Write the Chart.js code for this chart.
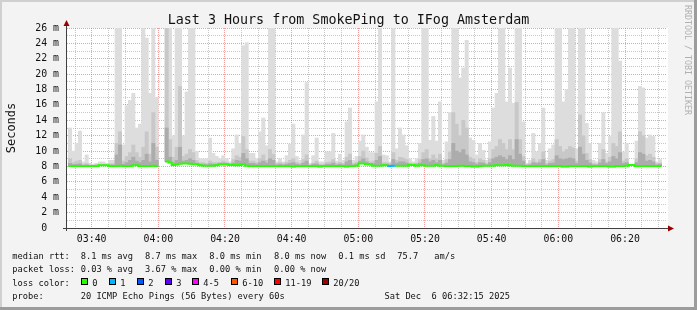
<!DOCTYPE html>
<html>
<head>
<meta charset="utf-8">
<title>SmokePing - IFog Amsterdam</title>
<script src="https://cdn.jsdelivr.net/npm/chart.js@4.4.1/dist/chart.umd.min.js"></script>
<style>
  html, body { margin: 0; padding: 0; background: #f3f3f3; }
  canvas { display: block; }
</style>
</head>
<body>
<canvas id="smokeChart" width="697" height="310"></canvas>
<script>
// Time window (one slot per minute, first slot starts at slotStart)
const viewStart = '03:32:36';
const viewMinutes = 180;
const slotStart = '03:33';
const xTickLabels = ['03:40', '04:00', '04:20', '04:40', '05:00', '05:20', '05:40', '06:00', '06:20'];
const yTickLabels = ['0', '2 m', '4 m', '6 m', '8 m', '10 m', '12 m', '14 m', '16 m', '18 m', '20 m', '22 m', '24 m', '26 m'];

// Smoke: highest ping per minute (ms), values above 26 are cut by the plot
const smokeMax = [
  13, 10, 11, 12.6, 8.6, 9.5, 8.4, 8.3, 8.4, 8.6,
  8.6, 8.4, 8.8, 8.8, 27, 27, 10.8, 15.9, 16.6, 17.5,
  13, 13.5, 27, 24.7, 17.5, 27, 17, null, null, 27,
  27, 12, 27, 27, 12, 17.7, 27, 27, 10, 9,
  9, 9, 11.7, 9.7, 9.3, 9, 9.4, 9, 8.6, 10.3,
  12.1, 11, 23.7, 24.1, 9.7, 9.7, 9, 12.5, 14.3, 10.7,
  27, 27, 8.6, 9, 8.6, 9.4, 10.9, 13.5, 9.3, 8.8,
  12.1, 18.9, 8.4, 9.4, 11.7, 8.6, 8.6, 9.9, 9.9, 12.3,
  8.7, 9.6, 8.8, 13.8, 15.6, 8.8, 9.3, 11.3, 12.1, 10.5,
  9.8, 9.8, 16.4, 27, 9.5, 9.4, 8.6, 27, 10.3, 13,
  12.1, 10.7, 9, 8.6, 9, 11, 27, 27, 11.4, 14.5,
  11.3, 16.4, 8.8, 11.2, 15, 27, 27, 19.5, 20.8, 24.4,
  11.7, 11.4, 9.5, 11, 10.1, 8.8, 11.2, 15.6, 17.5, 27,
  27, 16.4, 20.8, 16.2, 27, 27, 13.8, 8.4, 8.8, 12.3,
  9.9, 11, 15.6, 8.8, 10.3, 10.8, 27, 27, 16.4, 18,
  27, 27, 10.3, 27, 27, 13.6, 11, 8.8, 8.6, 11,
  15, 9.7, 11.9, 27, 27, 21.7, 9.9, 11, 8.2, 8.2,
  11.3, 18.4, 18.2, 11.7, 12.1, 11.9, 8.6, 8.9
];

// Smoke: upper edge of the medium grey band
const smokeMid = [
  9.0, 8.5, 8.7, 8.8, 8.3, 8.4, 8.2, 8.2, 8.25, 8.3,
  8.3, 8.25, 8.35, 8.35, 11, 12.5, 8.7, 9.3, 9.8, 10.8,
  9.8, 9.2, 10.5, 12.5, 9.6, 15, 10.5, null, null, 27,
  11.5, 9.2, 10.5, 18.4, 9.3, 9.6, 10.2, 9.8, 8.8, 8.5,
  8.5, 8.4, 8.7, 8.5, 8.5, 8.55, 8.7, 8.55, 8.4, 8.9,
  9.4, 9.2, 11.9, 10.2, 8.7, 8.7, 8.5, 9.0, 9.5, 8.8,
  10.2, 9.6, 8.4, 8.5, 8.4, 8.55, 8.8, 9.0, 8.55, 8.4,
  8.9, 9.5, 8.2, 8.45, 8.7, 8.3, 8.3, 8.55, 8.6, 8.9,
  8.4, 8.55, 8.4, 9.2, 9.6, 8.4, 8.55, 9.3, 10, 9.1,
  8.6, 8.7, 9.7, 10.6, 8.5, 8.5, 8.4, 9.8, 8.8, 9.2,
  9.1, 8.9, 8.45, 8.4, 8.45, 8.9, 9.8, 10.2, 9, 9.5,
  9, 9.6, 8.4, 8.9, 9.9, 15, 13.5, 12, 14, 13,
  9.2, 9, 8.5, 9, 8.8, 8.4, 9, 10.2, 10.6, 11.5,
  11, 10.2, 11.5, 10.2, 16.3, 11.5, 9.3, 8.3, 8.4, 9,
  8.6, 8.9, 9.9, 8.4, 8.7, 8.9, 11.5, 10.6, 9.9, 10.2,
  10.6, 10.4, 8.7, 14.7, 12, 9.7, 8.9, 8.4, 8.3, 8.9,
  10.2, 8.6, 9.2, 11, 10.6, 12.5, 8.7, 9, 8.25, 8.25,
  9, 12.5, 12, 9.4, 9.6, 9.2, 8.4, 8.45
];

// Smoke: upper edge of the dark grey band
const smokeDark = [
  8.4, 8.25, 8.3, 8.35, 8.15, 8.2, 8.1, 8.1, 8.15, 8.2,
  8.2, 8.15, 8.2, 8.2, 9.5, 10.8, 8.3, 8.5, 8.8, 9.2,
  8.7, 8.5, 8.8, 9.6, 8.6, 11, 8.8, null, null, 13,
  9.2, 8.5, 8.8, 10.5, 8.7, 8.8, 9, 8.8, 8.45, 8.3,
  8.3, 8.2, 8.35, 8.3, 8.3, 8.4, 8.45, 8.4, 8.3, 8.45,
  8.8, 8.7, 9.7, 9, 8.4, 8.4, 8.3, 8.5, 8.7, 8.45,
  9, 8.8, 8.2, 8.3, 8.2, 8.3, 8.4, 8.5, 8.3, 8.2,
  8.45, 8.7, 8.1, 8.3, 8.35, 8.15, 8.15, 8.3, 8.3, 8.45,
  8.2, 8.3, 8.2, 8.6, 8.8, 8.2, 8.3, 8.7, 9, 8.6,
  8.4, 8.4, 8.8, 9.3, 8.3, 8.3, 8.2, 8.9, 8.45, 8.6,
  8.6, 8.45, 8.3, 8.2, 8.3, 8.45, 8.9, 9, 8.6, 8.8,
  8.5, 8.8, 8.2, 8.45, 8.9, 11, 10, 9.8, 10.2, 9.5,
  8.6, 8.5, 8.3, 8.5, 8.45, 8.2, 8.5, 9, 9.2, 9.4,
  9.2, 8.9, 9.4, 8.9, 11.5, 9.6, 8.7, 8.15, 8.2, 8.5,
  8.4, 8.5, 8.9, 8.2, 8.4, 8.45, 9.4, 9, 8.9, 9,
  9.1, 9, 8.4, 10.5, 9.6, 8.8, 8.45, 8.2, 8.2, 8.45,
  8.9, 8.4, 8.6, 9.3, 9, 9.8, 8.4, 8.5, 8.22, 8.22,
  8.5, 9.8, 9.6, 8.7, 8.8, 8.6, 8.2, 8.3
];

// Median rtt per minute (ms)
const medianRtt = [
  8.05, 8.05, 8.05, 8.05, 8.05, 8.05, 8.05, 8.05, 8.05, 8.15,
  8.15, 8.15, 8.05, 8.05, 8.05, 8.1, 8.05, 8.05, 8.05, 8.15,
  8.15, 8.05, 8.05, 8.05, 8.05, 8.1, 8.05, null, null, 8.65,
  8.5, 8.2, 8.25, 8.35, 8.4, 8.4, 8.35, 8.3, 8.3, 8.15,
  8.1, 8.1, 8.1, 8.1, 8.15, 8.25, 8.25, 8.25, 8.2, 8.2,
  8.15, 8.2, 8.3, 8.1, 8.05, 8.05, 8.05, 8.05, 8.05, 8.05,
  8.05, 8.05, 8.05, 8.05, 8.05, 8.05, 8.05, 8.0, 8.05, 8.05,
  8.05, 8.05, 8.05, 8.05, 8.05, 8.0, 8.05, 8.05, 8.05, 8.05,
  8.05, 8.05, 8.05, 8.0, 8.05, 8.05, 8.1, 8.4, 8.4, 8.3,
  8.25, 8.1, 8.1, 8.1, 8.15, 8.15, 8.05, 8.1, 8.1, 8.1,
  8.1, 8.1, 8.2, 8.2, 8.1, 8.15, 8.15, 8.1, 8.1, 8.1,
  8.15, 8.1, 8.1, 8.05, 8.05, 8.05, 8.05, 8.1, 8.1, 8.05,
  8.05, 8.0, 8.0, 8.05, 8.1, 8.1, 8.1, 8.1, 8.15, 8.15,
  8.15, 8.2, 8.15, 8.1, 8.1, 8.1, 8.05, 8.05, 8.05, 8.05,
  8.05, 8.05, 8.05, 8.05, 8.05, 8.05, 8.05, 8.05, 8.0, 8.0,
  8.05, 8.05, 8.05, 8.05, 8.05, 8.05, 8.0, 8.05, 8.05, 8.05,
  8.05, 8.05, 8.0, 8.0, 8.05, 8.05, 8.05, 8.1, 8.2, 8.2,
  8.05, 8.05, 8.05, 8.05, 8.05, 8.05, 8.05, 8.05
];

// Lost pings (out of 20) for the few minutes that had any
const lossSlots = [96, 97];
const lossPings = [1, 1];

const lossLabels = ['0', '1', '2', '3', '4-5', '6-10', '11-19', '20/20'];
const lossColors = ['#26ff00', '#00b8ff', '#0059ff', '#5e00ff', '#ff00ff', '#ff5500', '#ff0000', '#a10000'];

const rttStats = ['8.1 ms avg', '8.7 ms max', '8.0 ms min', '8.0 ms now', '0.1 ms sd', '75.7', 'am/s'];
const lossStats = ['0.03 % avg', '3.67 % max', '0.00 % min', '0.00 % now'];

const titleText = 'Last 3 Hours from SmokePing to IFog Amsterdam';
const probeText = '20 ICMP Echo Pings (56 Bytes) every 60s';
const stampText = 'Sat Dec  6 06:32:15 2025';

const MONO = '"DejaVu Sans Mono", "Liberation Mono", monospace';
const TEXT = '#111';
const GRID_MAJOR = 'rgba(235, 80, 80, 0.55)';
const GRID_MINOR = 'rgba(130, 130, 130, 0.45)';

function toMin(s) {
    const p = s.split(':').map(Number);
    return p[0] * 60 + p[1] + (p[2] || 0) / 60;
}

function lossBucket(n) {
    if (n <= 3) return n;
    if (n <= 5) return 4;
    if (n <= 10) return 5;
    if (n <= 19) return 6;
    return 7;
}

const xMin = toMin(viewStart);
const firstSlot = toMin(slotStart);
const majorX = new Map(xTickLabels.map(l => [toMin(l), l]));

const slotLoss = medianRtt.map(() => 0);
lossSlots.forEach((k, i) => { slotLoss[k] = lossPings[i]; });

// Floating bars from the median up to each smoke level
function band(top) {
    return top.map((v, k) => ({
        x: firstSlot + k + 0.5,
        y: (v === null || medianRtt[k] === null) ? null : [medianRtt[k], v]
    }));
}

// Median as flat steps across each minute
const medLine = [];
const medSlot = [];
medianRtt.forEach((v, k) => {
    const x0 = firstSlot + k;
    if (v === null) {
        medLine.push({ x: x0 + 0.5, y: null }); medSlot.push(k);
        return;
    }
    medLine.push({ x: x0, y: v }); medSlot.push(k);
    medLine.push({ x: x0 + 1, y: v }); medSlot.push(k);
});

function tickValue(c) {
    return c && c.tick ? c.tick.value : null;
}

// Frame, axes with arrows, title and the rrdtool legend block
const rrdDecor = {
    id: 'rrdDecor',
    beforeDraw(chart) {
        const { ctx, width, height, chartArea: a } = chart;
        ctx.save();
        ctx.fillStyle = '#f3f3f3';
        ctx.fillRect(0, 0, width, height);
        ctx.fillStyle = '#d0d0d0';
        ctx.fillRect(0, 0, width, 2);
        ctx.fillRect(0, 0, 2, height);
        ctx.fillStyle = '#9c9c9c';
        ctx.fillRect(0, height - 3, width, 3);
        ctx.fillRect(width - 3, 0, 3, height);
        ctx.fillStyle = '#ffffff';
        ctx.fillRect(a.left, a.top, a.right - a.left + 1, a.bottom - a.top);
        ctx.restore();
    },
    afterDraw(chart) {
        const { ctx, width, chartArea: a } = chart;
        ctx.save();

        // axis lines
        const ax = a.left - 0.5;
        const ay = a.bottom + 0.5;
        ctx.strokeStyle = '#404040';
        ctx.lineWidth = 1;
        ctx.setLineDash([]);
        ctx.beginPath();
        ctx.moveTo(a.left - 4, ay); ctx.lineTo(a.right + 2, ay);
        ctx.moveTo(ax, a.bottom + 3); ctx.lineTo(ax, a.top - 4);
        ctx.stroke();

        // arrow heads
        ctx.fillStyle = '#990000';
        ctx.beginPath();
        ctx.moveTo(ax - 3, a.top - 2); ctx.lineTo(ax + 3, a.top - 2); ctx.lineTo(ax, a.top - 8);
        ctx.closePath(); ctx.fill();
        ctx.beginPath();
        ctx.moveTo(a.right + 1, ay - 3); ctx.lineTo(a.right + 1, ay + 3); ctx.lineTo(a.right + 7, ay);
        ctx.closePath(); ctx.fill();

        // title
        ctx.fillStyle = TEXT;
        ctx.font = '13.35px ' + MONO;
        ctx.textAlign = 'center';
        ctx.textBaseline = 'alphabetic';
        ctx.fillText(titleText, width / 2, 24);

        // vertical axis title
        ctx.save();
        ctx.translate(15, (a.top + a.bottom) / 2);
        ctx.rotate(-Math.PI / 2);
        ctx.font = '12px ' + MONO;
        ctx.textAlign = 'center';
        ctx.fillText('Seconds', 0, 0);
        ctx.restore();

        // watermark on the right
        ctx.save();
        ctx.translate(685, 5);
        ctx.rotate(Math.PI / 2);
        ctx.font = '8.3px ' + MONO;
        ctx.fillStyle = '#b0b0b0';
        ctx.textAlign = 'left';
        ctx.fillText('RRDTOOL / TOBI OETIKER', 0, 0);
        ctx.restore();

        // legend block
        ctx.font = '8.7px ' + MONO;
        ctx.fillStyle = TEXT;
        ctx.textAlign = 'left';
        const cols = [80.7, 145, 209.3, 274, 338.3, 397.3, 434.3];
        const rows = [258.5, 272, 285.8, 299.3];
        ctx.fillText('median rtt:', 12.3, rows[0]);
        rttStats.forEach((t, i) => ctx.fillText(t, cols[i], rows[0]));
        ctx.fillText('packet loss:', 12.3, rows[1]);
        lossStats.forEach((t, i) => ctx.fillText(t, cols[i], rows[1]));
        ctx.fillText('loss color:', 12.3, rows[2]);
        const swatchX = [81, 109, 136.7, 164.7, 192.3, 230.7, 274, 322.3];
        lossLabels.forEach((t, i) => {
            const bx = Math.round(swatchX[i]);
            ctx.fillStyle = lossColors[i];
            ctx.fillRect(bx, 278, 7, 7);
            ctx.strokeStyle = '#000';
            ctx.strokeRect(bx + 0.5, 278.5, 6, 6);
            ctx.fillStyle = TEXT;
            ctx.fillText(t, bx + 11.3, rows[2]);
        });
        ctx.fillText('probe:', 12.3, rows[3]);
        ctx.fillText(probeText, cols[0], rows[3]);
        ctx.textAlign = 'right';
        ctx.fillText(stampText, 510, rows[3]);

        ctx.restore();
    }
};

new Chart(document.getElementById('smokeChart'), {
    type: 'bar',
    data: {
        datasets: [
            {
                type: 'line',
                label: 'median rtt',
                data: medLine,
                borderColor: lossColors[0],
                borderWidth: 2,
                pointRadius: 0,
                spanGaps: false,
                clip: 0,
                order: 0,
                segment: {
                    borderColor: c => lossColors[lossBucket(slotLoss[medSlot[c.p1DataIndex]] || 0)]
                }
            },
            { label: 'smoke dark', data: band(smokeDark), backgroundColor: '#acacac', order: 1 },
            { label: 'smoke mid', data: band(smokeMid), backgroundColor: '#c8c8c8', order: 2 },
            { label: 'smoke', data: band(smokeMax), backgroundColor: '#dddddd', order: 3 }
        ]
    },
    options: {
        responsive: false,
        animation: false,
        layout: { padding: { left: 0, top: 28, right: 30, bottom: 62 } },
        datasets: {
            bar: {
                grouped: false,
                barPercentage: 1,
                categoryPercentage: 1,
                borderWidth: 0,
                clip: 0
            }
        },
        plugins: {
            legend: { display: false },
            tooltip: { enabled: false },
            title: { display: false }
        },
        scales: {
            x: {
                type: 'linear',
                min: xMin,
                max: xMin + viewMinutes,
                offset: false,
                z: 1,
                afterBuildTicks: s => {
                    const t = [];
                    for (let v = Math.ceil(s.min / 5) * 5; v <= s.max; v += 5) t.push({ value: v });
                    s.ticks = t;
                },
                afterFit: s => { s.height = 20; },
                grid: {
                    offset: false,
                    color: c => majorX.has(tickValue(c)) ? GRID_MAJOR : GRID_MINOR,
                    lineWidth: 1,
                    drawTicks: false
                },
                border: { display: false, dash: [1, 1] },
                ticks: {
                    autoSkip: false,
                    maxRotation: 0,
                    padding: 5,
                    color: TEXT,
                    font: { family: MONO, size: 9.9 },
                    callback: v => majorX.get(v) || ''
                }
            },
            y: {
                min: 0,
                max: 26,
                z: 1,
                afterBuildTicks: s => {
                    const t = [];
                    for (let v = 0; v <= 26; v++) t.push({ value: v });
                    s.ticks = t;
                },
                afterFit: s => { s.width = 67; },
                grid: {
                    color: c => tickValue(c) % 2 === 0 ? GRID_MAJOR : GRID_MINOR,
                    lineWidth: 1,
                    drawTicks: false
                },
                border: { display: false, dash: [1, 1] },
                ticks: {
                    autoSkip: false,
                    padding: 8,
                    color: TEXT,
                    font: { family: MONO, size: 9.9 },
                    callback: v => v % 2 === 0 ? yTickLabels[v / 2].padEnd(3) : ''
                }
            }
        }
    },
    plugins: [rrdDecor]
});
</script>
</body>
</html>
